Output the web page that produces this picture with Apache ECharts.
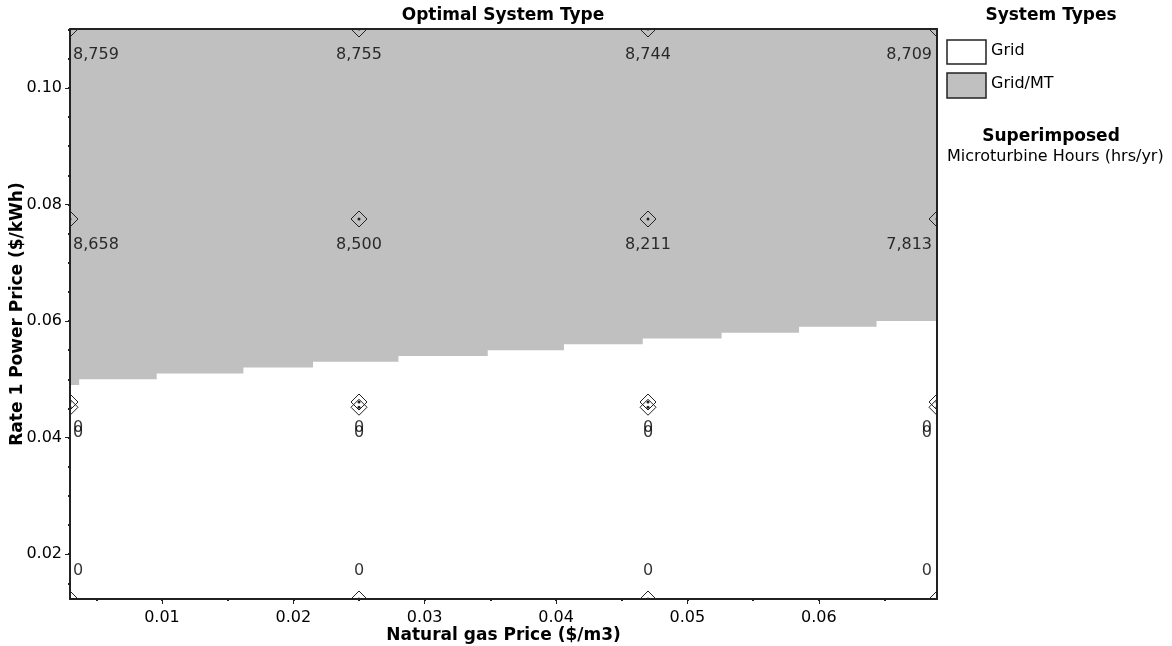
<!DOCTYPE html>
<html>
<head>
<meta charset="utf-8">
<script src="https://cdn.jsdelivr.net/npm/echarts@6/dist/echarts.min.js"></script>
<style>
html, body { margin: 0; padding: 0; background: #fff; }
#chart { width: 1172px; height: 646px; }
</style>
</head>
<body>
<div id="chart"></div>
<script>
var chart = echarts.init(document.getElementById('chart'));

var FONT = '"DejaVu Sans", sans-serif';

// sensitivity cases
var gasPrices = [0.003, 0.025, 0.047, 0.069];
var powerPrices = [0.0123, 0.0452, 0.0461, 0.0775, 0.1101];
// microturbine hours (hrs/yr), one row per power price
var mtHours = [
	[0, 0, 0, 0],
	[0, 0, 0, 0],
	[0, 0, 0, 0],
	[8658, 8500, 8211, 7813],
	[8759, 8755, 8744, 8709]
];

// Grid / Grid-MT boundary, stepped
var edgeGas = [0.003, 0.0037, 0.0096, 0.0162, 0.0215, 0.0280, 0.0348, 0.0406, 0.0466, 0.0526, 0.0585, 0.0644, 0.069];
var edgePower = [0.049, 0.050, 0.051, 0.052, 0.053, 0.054, 0.055, 0.056, 0.057, 0.058, 0.059, 0.060];

// ticks
var xLabels = [0.01, 0.02, 0.03, 0.04, 0.05, 0.06];
var xMinorTicks = [0.005, 0.01, 0.015, 0.02, 0.025, 0.03, 0.035, 0.04, 0.045, 0.05, 0.055, 0.06, 0.065];
var yLabels = [0.02, 0.04, 0.06, 0.08, 0.10];
var yMinorTicks = [0.015, 0.02, 0.025, 0.03, 0.035, 0.04, 0.045, 0.05, 0.055, 0.06, 0.065, 0.07, 0.075, 0.08, 0.085, 0.09, 0.095, 0.10, 0.105, 0.11];

var xMin = 0.003, xMax = 0.069;
var yMin = 0.0123, yMax = 0.1101;

var edgeData = edgeGas.map(function (g, i) {
	return [g, edgePower[Math.min(i, edgePower.length - 1)]];
});

var points = [];
var labelItems = [];
powerPrices.forEach(function (p, row) {
	gasPrices.forEach(function (g, col) {
		points.push([g, p]);
		var align = 'center', dx = 0, dy = 26;
		if (col === 0) { align = 'left'; dx = 3; }
		if (col === gasPrices.length - 1) { align = 'right'; dx = -5; }
		if (row === 0) dy = -28;
		labelItems.push({
			value: [g, p, mtHours[row][col]],
			label: { align: align, offset: [dx, dy] }
		});
	});
});

var axisLineStyle = { color: '#222', width: 2 };

var option = {
	animation: false,
	title: {
		text: 'Optimal System Type',
		left: 503,
		top: 7,
		padding: 0,
		textAlign: 'center',
		textStyle: { fontFamily: FONT, fontSize: 17, fontWeight: 'bold', color: '#000', lineHeight: 18 }
	},
	grid: { left: 70, right: 235, top: 29, bottom: 47, containLabel: false, outerBoundsMode: 'none' },
	xAxis: [{
		type: 'value', min: xMin, max: xMax, position: 'bottom', z: 5,
		name: 'Natural gas Price ($/m3)',
		nameLocation: 'middle',
		nameGap: 28,
		nameMoveOverlap: false,
		nameTextStyle: { fontFamily: FONT, fontSize: 17, fontWeight: 'bold', color: '#000' },
		axisLine: { lineStyle: axisLineStyle },
		axisTick: { customValues: xLabels, length: 5, lineStyle: { color: '#222', width: 1 } },
		axisLabel: {
			customValues: xLabels, margin: 11, color: '#000', fontFamily: FONT, fontSize: 16,
			formatter: function (v) { return v.toFixed(2); }
		},
		splitLine: { show: false }
	}, {
		type: 'value', min: xMin, max: xMax, position: 'bottom', z: 5,
		axisLine: { show: false },
		axisTick: { customValues: xMinorTicks, length: 2, lineStyle: { color: '#222', width: 2 } },
		axisLabel: { show: false },
		splitLine: { show: false }
	}, {
		type: 'value', min: xMin, max: xMax, position: 'top', z: 5,
		axisLine: { lineStyle: axisLineStyle },
		axisTick: { show: false },
		axisLabel: { show: false },
		splitLine: { show: false }
	}],
	yAxis: [{
		type: 'value', min: yMin, max: yMax, position: 'left', z: 5,
		name: 'Rate 1 Power Price ($/kWh)',
		nameLocation: 'middle',
		nameGap: 44,
		nameMoveOverlap: false,
		nameTextStyle: { fontFamily: FONT, fontSize: 17, fontWeight: 'bold', color: '#000' },
		axisLine: { lineStyle: axisLineStyle },
		axisTick: { customValues: yLabels, length: 5, lineStyle: { color: '#222', width: 1 } },
		axisLabel: {
			customValues: yLabels, margin: 8, color: '#000', fontFamily: FONT, fontSize: 16,
			formatter: function (v) { return v.toFixed(2); }
		},
		splitLine: { show: false }
	}, {
		type: 'value', min: yMin, max: yMax, position: 'left', z: 5,
		axisLine: { show: false },
		axisTick: { customValues: yMinorTicks, length: 2, lineStyle: { color: '#222', width: 2 } },
		axisLabel: { show: false },
		splitLine: { show: false }
	}, {
		type: 'value', min: yMin, max: yMax, position: 'right', z: 5,
		axisLine: { lineStyle: axisLineStyle },
		axisTick: { show: false },
		axisLabel: { show: false },
		splitLine: { show: false }
	}],
	series: [{
		// Grid/MT region above the boundary
		type: 'line',
		step: 'end',
		data: edgeData,
		symbol: 'none',
		silent: true,
		z: 1,
		lineStyle: { width: 0, color: '#c0c0c0' },
		areaStyle: { color: '#c0c0c0', opacity: 1, origin: 'end' }
	}, {
		type: 'custom',
		clip: true,
		z: 3,
		silent: true,
		data: points,
		renderItem: function (params, api) {
			var c = api.coord([api.value(0), api.value(1)]);
			var r = 8;
			return {
				type: 'group',
				children: [{
					type: 'polygon',
					shape: { points: [[c[0], c[1] - r], [c[0] + r, c[1]], [c[0], c[1] + r], [c[0] - r, c[1]]] },
					style: { fill: 'none', stroke: '#222', lineWidth: 1 }
				}, {
					type: 'circle',
					shape: { cx: c[0], cy: c[1], r: 1.5 },
					style: { fill: '#222' }
				}]
			};
		}
	}, {
		type: 'scatter',
		z: 4,
		silent: true,
		clip: false,
		symbolSize: 1,
		itemStyle: { color: 'rgba(0,0,0,0)' },
		data: labelItems,
		label: {
			show: true,
			position: 'inside',
			verticalAlign: 'middle',
			color: '#000',
			fontFamily: FONT,
			fontSize: 16,
			formatter: function (p) { return echarts.format.addCommas(p.value[2]); }
		}
	}],
	graphic: [
		{ type: 'text', x: 1051, y: 16, style: { text: 'System Types', align: 'center', verticalAlign: 'middle', font: 'bold 17px "DejaVu Sans"', fill: '#000' } },
		{ type: 'rect', shape: { x: 947, y: 40, width: 39, height: 24 }, style: { fill: '#fff', stroke: '#222', lineWidth: 1.5 } },
		{ type: 'text', x: 991, y: 51, style: { text: 'Grid', verticalAlign: 'middle', font: '16px "DejaVu Sans"', fill: '#000' } },
		{ type: 'rect', shape: { x: 947, y: 73, width: 39, height: 25 }, style: { fill: '#c0c0c0', stroke: '#222', lineWidth: 1.5 } },
		{ type: 'text', x: 991, y: 84, style: { text: 'Grid/MT', verticalAlign: 'middle', font: '16px "DejaVu Sans"', fill: '#000' } },
		{ type: 'text', x: 1051, y: 137, style: { text: 'Superimposed', align: 'center', verticalAlign: 'middle', font: 'bold 17px "DejaVu Sans"', fill: '#000' } },
		{ type: 'text', x: 947, y: 157, style: { text: 'Microturbine Hours (hrs/yr)', verticalAlign: 'middle', font: '16px "DejaVu Sans"', fill: '#000' } }
	]
};

chart.setOption(option);
</script>
</body>
</html>
